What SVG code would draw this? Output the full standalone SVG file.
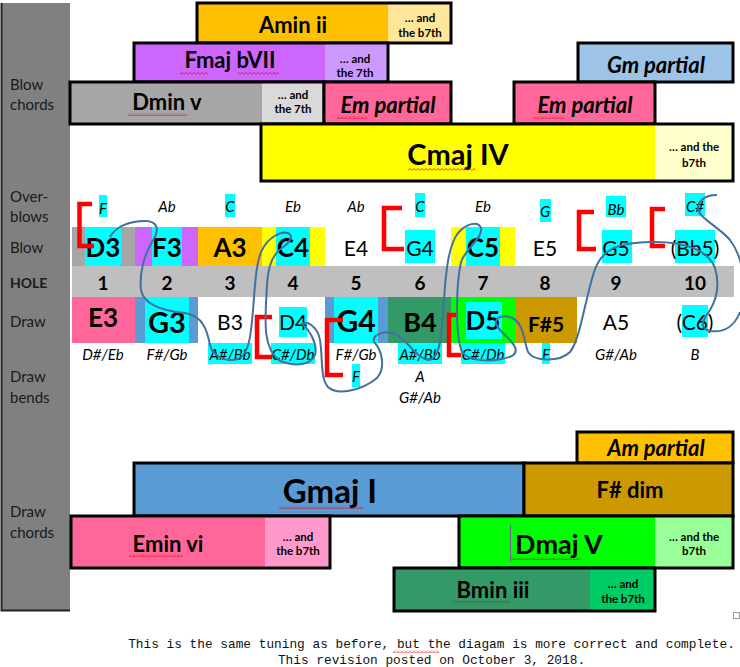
<svg xmlns="http://www.w3.org/2000/svg" width="740" height="667" viewBox="0 0 740 667">
<defs>
<style>
text{font-family:Lato,"Liberation Sans",sans-serif;fill:#000}
.side{font-size:15px;fill:#1a1a1a}
.ch{font-weight:bold;text-anchor:middle;font-size:22px}
.chi{font-weight:bold;font-style:italic;text-anchor:middle;font-size:22px}
.sm{font-weight:bold;text-anchor:middle;font-size:11.5px}
.bx{fill:none;stroke:#000;stroke-width:3}
.nb{font-weight:bold;text-anchor:middle;font-size:26px}
.nr{text-anchor:middle;font-size:21px}
.hn{font-weight:bold;text-anchor:middle;font-size:19px}
.it{font-style:italic;text-anchor:middle;font-size:15px}
.br{fill:none;stroke:#FF0000;stroke-width:4.5}
.cv{fill:none;stroke:#41719C;stroke-width:2}
.cy{fill:#00FFFF}
.foot{font-family:"Liberation Mono","Courier New",monospace;font-size:12.8px;text-anchor:middle;fill:#111}
</style>
<pattern id="sq" patternUnits="userSpaceOnUse" width="4" height="3">
<path d="M0,2.5 L2,0.5 L4,2.5" fill="none" stroke="#E00000" stroke-width="0.8"/>
</pattern>
</defs>
<rect width="740" height="667" fill="#fff"/>

<g id="sidebar">
<rect x="2" y="3" width="68" height="607" fill="#808080"/>
<path d="M1.5,3 V610.5 H70" fill="none" stroke="#222" stroke-width="2"/>
<text class="side" x="10" y="90">Blow</text>
<text class="side" x="10" y="110">chords</text>
<text class="side" x="10" y="202">Over-</text>
<text class="side" x="10" y="222">blows</text>
<text class="side" x="10" y="253">Blow</text>
<text class="side" x="10" y="288" style="font-weight:bold;font-size:14px">HOLE</text>
<text class="side" x="10" y="327">Draw</text>
<text class="side" x="10" y="382">Draw</text>
<text class="side" x="10" y="403">bends</text>
<text class="side" x="10" y="517">Draw</text>
<text class="side" x="10" y="538">chords</text>
</g>

<g id="chord-amin">
<rect x="197" y="3" width="191" height="40" fill="#FFC000"/>
<rect x="388" y="3" width="63" height="40" fill="#FFE699"/>
<rect class="bx" x="197" y="3" width="254" height="40"/>
<text class="ch" x="293" y="33">Amin ii</text>
<text class="sm" x="420" y="22">… and</text>
<text class="sm" x="420" y="37">the b7th</text>
</g>
<g id="chord-fmaj">
<rect x="134" y="43" width="191" height="39" fill="#CC66FF"/>
<rect x="325" y="43" width="63" height="39" fill="#CC99FF"/>
<rect class="bx" x="134" y="43" width="254" height="39"/>
<text class="ch" x="230" y="68">Fmaj bVII</text>
<text class="sm" x="355" y="63">… and</text>
<text class="sm" x="355" y="77">the 7th</text>
</g>
<g id="chord-gm">
<rect x="578" y="43" width="155" height="39" fill="#9DC3E6"/>
<rect class="bx" x="578" y="43" width="155" height="39"/>
<text class="chi" x="656" y="73">Gm partial</text>
</g>
<g id="chord-dmin">
<rect x="70" y="82" width="192" height="42" fill="#A6A6A6"/>
<rect x="262" y="82" width="62" height="42" fill="#D9D9D9"/>
<rect class="bx" x="70" y="82" width="254" height="42"/>
<text class="ch" x="167" y="110">Dmin v</text>
<text class="sm" x="293" y="99">… and</text>
<text class="sm" x="293" y="113">the 7th</text>
</g>
<g id="chord-em1">
<rect x="324" y="82" width="127" height="42" fill="#FF6699"/>
<rect class="bx" x="324" y="82" width="127" height="42"/>
<text class="chi" x="388" y="113">Em partial</text>
</g>
<g id="chord-em2">
<rect x="514" y="82" width="141" height="42" fill="#FF6699"/>
<rect class="bx" x="514" y="82" width="141" height="42"/>
<text class="chi" x="585" y="113">Em partial</text>
</g>
<g id="chord-cmaj">
<rect x="261" y="124" width="394" height="57" fill="#FFFF00"/>
<rect x="655" y="124" width="78" height="57" fill="#FFFFCC"/>
<rect class="bx" x="261" y="124" width="472" height="57"/>
<text class="ch" x="458" y="165" style="font-size:29px">Cmaj IV</text>
<text class="sm" x="694" y="151">… and the</text>
<text class="sm" x="694" y="167">b7th</text>
</g>

<g id="overblows">
<rect class="cy" x="99" y="195" width="8" height="22"/>
<rect class="cy" x="225" y="194" width="10" height="23"/>
<rect class="cy" x="415" y="193" width="10" height="24"/>
<rect class="cy" x="540" y="199" width="11" height="23"/>
<rect class="cy" x="606" y="196" width="20" height="21"/>
<rect class="cy" x="685" y="193" width="20" height="23"/>
<text class="it" x="103" y="214">F</text>
<text class="it" x="167" y="212">Ab</text>
<text class="it" x="230" y="212">C</text>
<text class="it" x="293" y="212">Eb</text>
<text class="it" x="356" y="212">Ab</text>
<text class="it" x="420" y="212">C</text>
<text class="it" x="483" y="212">Eb</text>
<text class="it" x="545" y="217">G</text>
<text class="it" x="616" y="215">Bb</text>
<text class="it" x="695" y="212">C#</text>
</g>

<g id="blow">
<rect x="72" y="227" width="63" height="39" fill="#A6A6A6"/>
<rect class="cy" x="85" y="227" width="36" height="39"/>
<rect x="135" y="227" width="63" height="39" fill="#CC66FF"/>
<rect class="cy" x="152" y="227" width="30" height="39"/>
<rect x="198" y="227" width="64" height="39" fill="#FFC000"/>
<rect x="262" y="227" width="63" height="39" fill="#FFFF00"/>
<rect class="cy" x="276" y="227" width="34" height="39"/>
<rect class="cy" x="405" y="230" width="30" height="33"/>
<rect x="451" y="227" width="64" height="39" fill="#FFFF00"/>
<rect class="cy" x="466" y="227" width="34" height="39"/>
<rect class="cy" x="602" y="230" width="30" height="33"/>
<rect class="cy" x="675" y="230" width="40" height="33"/>
<text class="nb" x="103" y="257">D3</text>
<text class="nb" x="167" y="257">F3</text>
<text class="nb" x="230" y="257">A3</text>
<text class="nb" x="293" y="257">C4</text>
<text class="nr" x="356" y="256">E4</text>
<text class="nr" x="420" y="256">G4</text>
<text class="nb" x="483" y="257">C5</text>
<text class="nr" x="545" y="256">E5</text>
<text class="nr" x="616" y="256">G5</text>
<text class="nr" x="695" y="256">(Bb5)</text>
</g>

<g id="holes">
<rect x="72" y="266" width="662" height="31" fill="#BFBFBF"/>
<text class="hn" x="103" y="290">1</text>
<text class="hn" x="167" y="290">2</text>
<text class="hn" x="230" y="290">3</text>
<text class="hn" x="293" y="290">4</text>
<text class="hn" x="356" y="290">5</text>
<text class="hn" x="420" y="290">6</text>
<text class="hn" x="483" y="290">7</text>
<text class="hn" x="545" y="290">8</text>
<text class="hn" x="616" y="290">9</text>
<text class="hn" x="695" y="290">10</text>
</g>

<g id="draw">
<rect x="72" y="297" width="63" height="46" fill="#FF6699"/>
<rect x="135" y="297" width="63" height="46" fill="#5B9BD5"/>
<rect class="cy" x="145" y="297" width="44" height="46"/>
<rect class="cy" x="279" y="307" width="28" height="30"/>
<rect x="325" y="297" width="63" height="46" fill="#5B9BD5"/>
<rect class="cy" x="334" y="297" width="44" height="46"/>
<rect x="388" y="297" width="63" height="46" fill="#339966"/>
<rect x="451" y="297" width="64" height="46" fill="#00FF00"/>
<rect class="cy" x="466" y="302" width="36" height="37"/>
<rect x="515" y="297" width="62" height="46" fill="#CC9900"/>
<rect class="cy" x="682" y="305" width="26" height="32"/>
<text class="nb" x="103" y="327">E3</text>
<text class="nb" x="167" y="333" style="font-size:29px">G3</text>
<text class="nr" x="230" y="330">B3</text>
<text class="nr" x="293" y="330">D4</text>
<text class="nb" x="356" y="332" style="font-size:30px">G4</text>
<text class="nb" x="420" y="332" style="font-size:27px">B4</text>
<text class="nb" x="483" y="330">D5</text>
<text class="nb" x="546" y="332" style="font-size:21px">F#5</text>
<text class="nr" x="616" y="330">A5</text>
<text class="nr" x="695" y="330">(C6)</text>
</g>

<g id="bends">
<rect class="cy" x="208" y="343" width="44" height="21"/>
<rect class="cy" x="271" y="343" width="44" height="21"/>
<rect class="cy" x="352" y="364" width="8" height="23"/>
<rect class="cy" x="398" y="343" width="44" height="21"/>
<rect class="cy" x="461" y="343" width="44" height="21"/>
<rect class="cy" x="542" y="343" width="8" height="21"/>
<text class="it" x="103" y="360">D#/Eb</text>
<text class="it" x="167" y="360">F#/Gb</text>
<text class="it" x="230" y="360">A#/Bb</text>
<text class="it" x="293" y="360">C#/Db</text>
<text class="it" x="356" y="360">F#/Gb</text>
<text class="it" x="420" y="360">A#/Bb</text>
<text class="it" x="483" y="360">C#/Db</text>
<text class="it" x="546" y="360">F</text>
<text class="it" x="616" y="360">G#/Ab</text>
<text class="it" x="695" y="360">B</text>
<text class="it" x="356" y="382">F</text>
<text class="it" x="420" y="382">A</text>
<text class="it" x="420" y="403">G#/Ab</text>
</g>

<g id="brackets">
<path class="br" d="M92,204 H79.5 V246 H94"/>
<path class="br" d="M402,208 H384 V249 H404"/>
<path class="br" d="M594,212 H579 V249 H596"/>
<path class="br" d="M665,209 H652 V246 H665"/>
<path class="br" d="M272,317 H257 V357 H272"/>
<path class="br" d="M343,320 H327 V375 H343"/>
<path class="br" d="M458,315 H449 V355 H461"/>
</g>

<g id="connectors">
<path class="cv" d="M110,237 C116,226 130,221 145,221 C158,221 160,230 152,242 C144,255 139,275 141,290 C143,303 160,311 185,313 C203,316 207,330 210,345 C213,357 226,362 238,359 C249,355 251,335 253,310 C255,285 256,262 262,250 C268,238 280,231 288,233 C294,236 290,242 283,247 C275,252 268,262 267,285 C265,320 262,348 280,361 C296,367 311,365 315,355 C318,345 310,330 302,324 C308,320 318,328 320,340 C323,358 320,378 328,387 C336,395 360,392 377,378 C386,368 382,350 374,342 C372,334 385,330 395,334 C407,339 416,358 428,360 C441,360 442,330 444,300 C446,268 449,245 458,233 C466,224 478,220 481,228 C483,238 466,248 461,262 C456,285 455,335 462,352 C470,363 497,362 512,356 C522,350 510,340 500,330 C490,320 500,313 512,318 C524,323 524,342 528,352 C534,362 560,362 570,352 C580,340 585,300 594,272 C602,248 618,243 650,242 C685,241 708,250 715,268 C720,285 716,300 710,310 C703,320 698,328 710,331 C725,333 735,325 740,312"/>
<path class="cv" d="M717,195 C703,195 696,203 699,212 C703,220 720,228 730,240 C736,248 740,258 742,268"/>
</g>

<g id="chord-ampartial">
<rect x="577" y="432" width="156" height="31" fill="#FFC000"/>
<rect class="bx" x="577" y="432" width="156" height="31"/>
<text class="chi" x="656" y="456">Am partial</text>
</g>
<g id="chord-gmaj">
<rect x="134" y="463" width="390" height="53" fill="#5B9BD5"/>
<rect class="bx" x="134" y="463" width="390" height="53"/>
<text class="ch" x="330" y="503" style="font-size:33px">Gmaj I</text>
</g>
<g id="chord-fdim">
<rect x="524" y="463" width="209" height="53" fill="#CC9900"/>
<rect class="bx" x="524" y="463" width="209" height="53"/>
<text class="ch" x="630" y="498">F# dim</text>
</g>
<g id="chord-emin">
<rect x="71" y="516" width="194" height="52" fill="#FF6699"/>
<rect x="265" y="516" width="65" height="52" fill="#FF99CC"/>
<rect class="bx" x="71" y="516" width="259" height="52"/>
<text class="ch" x="168" y="552">Emin vi</text>
<text class="sm" x="298" y="541">… and</text>
<text class="sm" x="298" y="555">the b7th</text>
</g>
<g id="chord-dmaj">
<rect x="459" y="516" width="196" height="52" fill="#00FF00"/>
<rect x="655" y="516" width="78" height="52" fill="#99FF99"/>
<rect class="bx" x="459" y="516" width="274" height="52"/>
<line x1="510.5" y1="525" x2="510.5" y2="562" stroke="#7a5a9a" stroke-width="1"/>
<text class="ch" x="559" y="554" style="font-size:27px">Dmaj V</text>
<text class="sm" x="694" y="541">… and the</text>
<text class="sm" x="694" y="555">b7th</text>
</g>
<g id="chord-bmin">
<rect x="394" y="568" width="196" height="43" fill="#339966"/>
<rect x="590" y="568" width="65" height="43" fill="#00CC66"/>
<rect class="bx" x="394" y="568" width="261" height="43"/>
<text class="ch" x="493" y="598">Bmin iii</text>
<text class="sm" x="623" y="588">… and</text>
<text class="sm" x="623" y="603">the b7th</text>
</g>

<g id="spellcheck">
<rect x="180" y="72" width="28" height="3" fill="url(#sq)"/>
<rect x="238" y="72" width="41" height="3" fill="url(#sq)"/>
<rect x="128" y="113" width="59" height="3" fill="url(#sq)"/>
<rect x="337" y="116" width="30" height="3" fill="url(#sq)"/>
<rect x="534" y="116" width="31" height="3" fill="url(#sq)"/>
<rect x="408" y="168" width="67" height="3" fill="url(#sq)"/>
<rect x="279" y="506" width="84" height="3" fill="url(#sq)"/>
<rect x="129" y="554" width="54" height="3" fill="url(#sq)"/>
<rect x="511" y="557" width="70" height="3" fill="url(#sq)"/>
<rect x="453" y="601" width="57" height="3" fill="url(#sq)"/>
<rect x="393" y="650" width="46" height="3" fill="url(#sq)"/>
</g>

<rect x="733.5" y="612.5" width="6" height="6" fill="none" stroke="#999" stroke-width="1"/>

<g id="footer">
<text class="foot" x="431.5" y="648">This is the same tuning as before, but the diagam is more correct and complete.</text>
<text class="foot" x="431.5" y="664">This revision posted on October 3, 2018.</text>
</g>
</svg>
